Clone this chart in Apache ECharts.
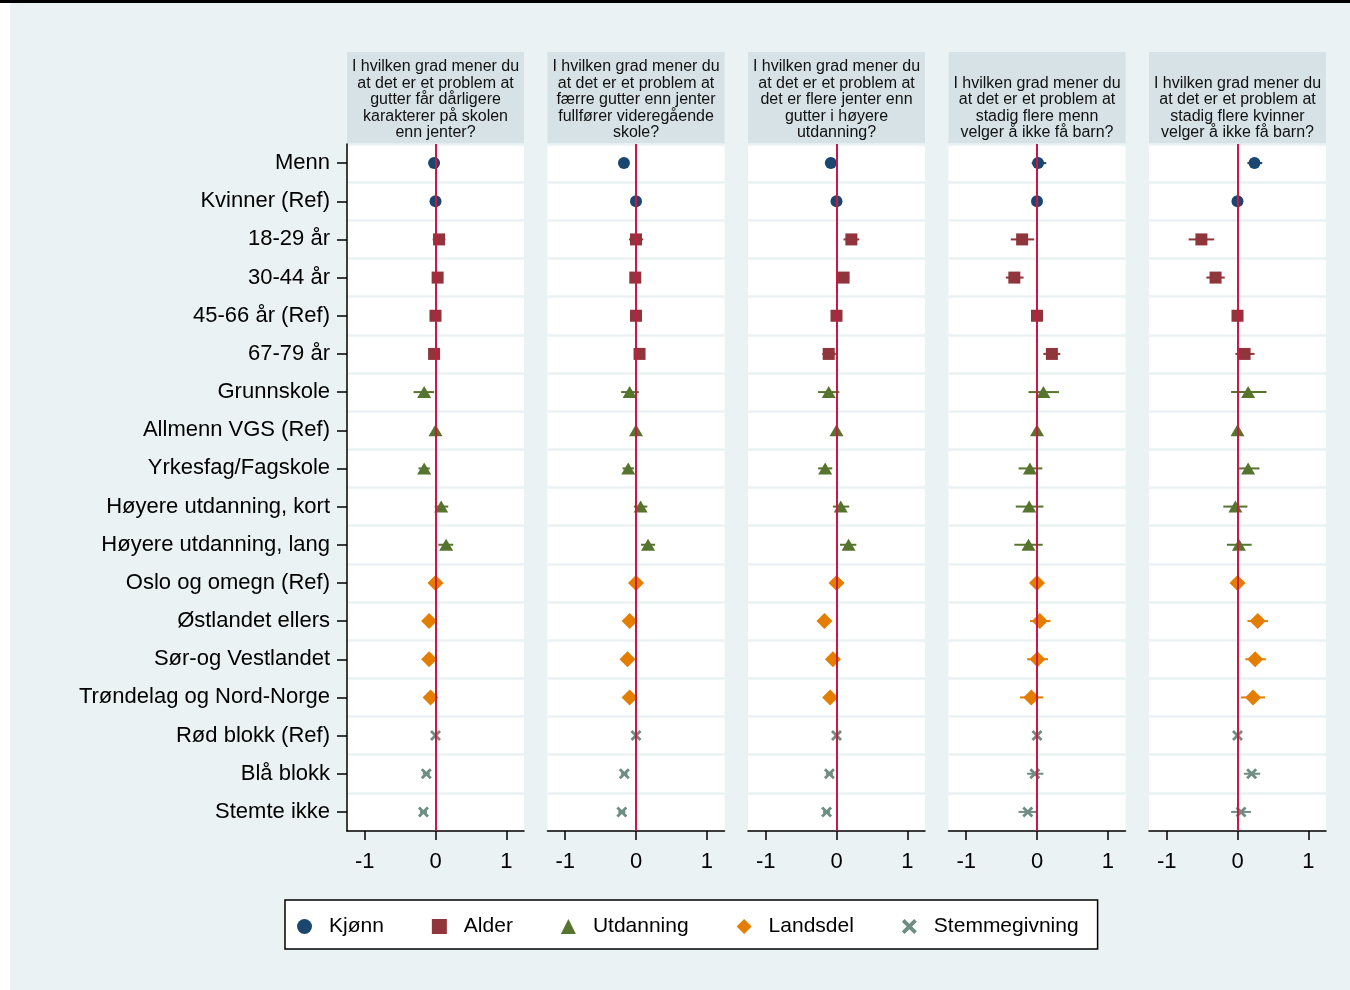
<!DOCTYPE html>
<html><head><meta charset="utf-8">
<script src="https://cdn.jsdelivr.net/npm/echarts@6/dist/echarts.min.js"></script>
<style>
html,body{margin:0;padding:0;background:#fff}
#wrap{position:relative;width:1350px;height:990px}
#c{position:absolute;left:0;top:0;width:1350px;height:990px}
#topbar{position:absolute;left:0;top:0;width:1350px;height:3px;background:#000;z-index:5}
#leftstrip{position:absolute;left:0;top:3px;width:10px;height:987px;background:#fff;z-index:5}
</style>
</head><body><div id="wrap"><div id="c"></div><div id="topbar"></div><div id="leftstrip"></div></div>
<script>
// ---------- data ----------
const categories = ['Menn','Kvinner (Ref)','18-29 år','30-44 år','45-66 år (Ref)','67-79 år',
  'Grunnskole','Allmenn VGS (Ref)','Yrkesfag/Fagskole','Høyere utdanning, kort','Høyere utdanning, lang',
  'Oslo og omegn (Ref)','Østlandet ellers','Sør-og Vestlandet','Trøndelag og Nord-Norge',
  'Rød blokk (Ref)','Blå blokk','Stemte ikke'];
const groups = ['Kjønn','Alder','Utdanning','Landsdel','Stemmegivning'];
const categoryGroup = [0,0,1,1,1,1,2,2,2,2,2,3,3,3,3,4,4,4];
const panelTitles = [
  'I hvilken grad mener du\nat det er et problem at\ngutter får dårligere\nkarakterer på skolen\nenn jenter?',
  'I hvilken grad mener du\nat det er et problem at\nfærre gutter enn jenter\nfullfører videregående\nskole?',
  'I hvilken grad mener du\nat det er et problem at\ndet er flere jenter enn\ngutter i høyere\nutdanning?',
  'I hvilken grad mener du\nat det er et problem at\nstadig flere menn\nvelger å ikke få barn?',
  'I hvilken grad mener du\nat det er et problem at\nstadig flere kvinner\nvelger å ikke få barn?'
];
const xTicks = [-1, 0, 1];

const est1 = [-0.02,0,0.05,0.03,0,-0.02,-0.16,0,-0.16,0.08,0.15,0,-0.09,-0.09,-0.07,0,-0.13,-0.17];
const lo1  = [-0.07,0,-0.04,-0.03,0,-0.08,-0.31,0,-0.24,-0.01,0.04,0,-0.15,-0.15,-0.13,0,-0.18,-0.22];
const hi1  = [0.03,0,0.14,0.09,0,0.04,-0.02,0,-0.08,0.18,0.25,0,-0.03,-0.03,-0.01,0,-0.08,-0.12];

const est2 = [-0.17,0,0,-0.01,0,0.05,-0.09,0,-0.11,0.065,0.17,0,-0.09,-0.12,-0.09,0,-0.165,-0.2];
const lo2  = [-0.22,0,-0.1,-0.07,0,-0.01,-0.21,0,-0.19,-0.03,0.07,0,-0.15,-0.18,-0.15,0,-0.21,-0.25];
const hi2  = [-0.12,0,0.1,0.05,0,0.11,0.04,0,-0.03,0.16,0.27,0,-0.03,-0.06,-0.03,0,-0.12,-0.15];

const est3 = [-0.08,0,0.21,0.10,0,-0.11,-0.11,0,-0.16,0.06,0.17,0,-0.17,-0.05,-0.09,0,-0.10,-0.14];
const lo3  = [-0.14,0,0.10,0.01,0,-0.20,-0.26,0,-0.26,-0.05,0.05,0,-0.23,-0.11,-0.15,0,-0.15,-0.19];
const hi3  = [-0.02,0,0.32,0.18,0,-0.01,0.04,0,-0.06,0.18,0.28,0,-0.11,0.01,-0.03,0,-0.05,-0.09];

const est4 = [0.015,0,-0.21,-0.32,0,0.21,0.09,0,-0.10,-0.11,-0.12,0,0.04,0.005,-0.08,0,-0.03,-0.13];
const lo4  = [-0.075,0,-0.37,-0.44,0,0.09,-0.12,0,-0.26,-0.30,-0.32,0,-0.10,-0.14,-0.24,0,-0.14,-0.26];
const hi4  = [0.13,0,-0.04,-0.19,0,0.33,0.31,0,0.075,0.09,0.08,0,0.19,0.156,0.09,0,0.09,0.01];

const est5 = [0.24,0,-0.51,-0.31,0,0.10,0.15,0,0.15,-0.03,0.02,0,0.285,0.25,0.22,0,0.20,0.05];
const lo5  = [0.14,0,-0.69,-0.44,0,-0.03,-0.09,0,0.01,-0.2,-0.15,0,0.14,0.11,0.05,0,0.09,-0.09];
const hi5  = [0.35,0,-0.33,-0.18,0,0.24,0.41,0,0.31,0.14,0.2,0,0.43,0.40,0.39,0,0.32,0.19];

const estimates = [est1, est2, est3, est4, est5];
const lowers = [lo1, lo2, lo3, lo4, lo5];
const uppers = [hi1, hi2, hi3, hi4, hi5];

// ---------- styling ----------
const FONT = '"Liberation Sans", Arial, sans-serif';
const colors = ['#1a476f','#90353b','#55752f','#e37e00','#6e8e84'];
const xPath = 'path://M0,1.8L1.8,0L5,3.2L8.2,0L10,1.8L6.8,5L10,8.2L8.2,10L5,6.8L1.8,10L0,8.2L3.2,5Z';
const symbols = ['circle','rect','triangle','diamond', xPath];
const symbolSizes = [12, 12, [14,12], 16, 11];
const BG = '#eaf2f3';
const HEADER_BG = '#d6e2e6';
const panelLeft0 = 347, panelW = 177, panelStep = 200.5, gridTop = 144, gridBottomY = 831;

const grids = [], xAxes = [], yAxes = [], series = [], graphics = [];
for (let p = 0; p < 5; p++) {
  const left = panelLeft0 + p * panelStep;
  grids.push({left: left, top: gridTop, width: panelW, height: gridBottomY - gridTop,
    show: true, backgroundColor: '#fff', borderWidth: 0, containLabel: false});
  xAxes.push({type: 'value', gridIndex: p, min: -1.25, max: 1.25,
    axisLine: {show: true, onZero: false, lineStyle: {color: '#000', width: 1.5}},
    axisTick: {show: true, length: 9, customValues: xTicks, lineStyle: {color: '#000', width: 1.5}},
    axisLabel: {show: true, customValues: xTicks, margin: 20, fontSize: 22, fontFamily: FONT, color: '#000'},
    splitLine: {show: false}});
  yAxes.push({type: 'category', gridIndex: p, data: categories, inverse: true,
    axisLine: {show: p === 0, onZero: false, lineStyle: {color: '#000', width: 1.5}},
    axisTick: {show: p === 0, alignWithLabel: true, length: 10, lineStyle: {color: '#000', width: 1.5}},
    axisLabel: {show: p === 0, fontSize: 22, fontFamily: FONT, color: '#000', margin: 17, padding: [3, 0, 0, 0]},
    splitLine: {show: true, lineStyle: {color: BG, width: 2.5}}});

  // zero reference line
  series.push({type: 'line', xAxisIndex: p, yAxisIndex: p, data: [[0, 0]], symbol: 'none',
    lineStyle: {opacity: 0}, silent: true, z: 1,
    markLine: {silent: true, symbol: 'none', label: {show: false},
      lineStyle: {color: '#cc1744', width: 2, type: 'solid'}, data: [{xAxis: 0}]}});

  // confidence intervals
  const ciData = [];
  for (let i = 0; i < categories.length; i++) {
    if (lowers[p][i] !== uppers[p][i]) ciData.push([lowers[p][i], uppers[p][i], i, categoryGroup[i]]);
  }
  series.push({type: 'custom', xAxisIndex: p, yAxisIndex: p, z: 2, silent: true,
    encode: {x: [0, 1], y: 2},
    renderItem: function (params, api) {
      const a = api.coord([api.value(0), api.value(2)]);
      const b = api.coord([api.value(1), api.value(2)]);
      return {type: 'line', shape: {x1: a[0], y1: a[1], x2: b[0], y2: b[1]},
        style: {stroke: colors[api.value(3)], lineWidth: 2}};
    },
    data: ciData});

  // point estimates
  for (let g = 0; g < groups.length; g++) {
    const d = [];
    for (let i = 0; i < categories.length; i++) if (categoryGroup[i] === g) d.push([estimates[p][i], i]);
    series.push({type: 'scatter', name: groups[g], xAxisIndex: p, yAxisIndex: p, z: 3,
      symbol: symbols[g], symbolSize: symbolSizes[g],
      itemStyle: {color: colors[g], opacity: 1}, data: d});
  }

  // panel header
  graphics.push({type: 'rect', shape: {x: left, y: 52, width: panelW, height: gridTop - 52},
    style: {fill: HEADER_BG}, silent: true});
  graphics.push({type: 'text', x: left + panelW / 2, y: 141, silent: true,
    style: {text: panelTitles[p], align: 'center', verticalAlign: 'bottom',
      font: '16px ' + FONT, lineHeight: 16.5, fill: '#111'}});
}

const chart = echarts.init(document.getElementById('c'), null, {renderer: 'canvas'});
chart.setOption({
  animation: false,
  backgroundColor: BG,
  grid: grids, xAxis: xAxes, yAxis: yAxes, series: series,
  graphic: {elements: graphics},
  legend: {left: 285, top: 900, orient: 'horizontal',
    data: groups.map((g, i) => ({name: g, icon: symbols[i]})),
    itemWidth: 15, itemHeight: 15, itemGap: 48, symbolKeepAspect: true,
    padding: [14, 19, 10, 12], backgroundColor: '#fff', borderColor: '#000', borderWidth: 1.5, borderRadius: 0,
    textStyle: {fontSize: 21, fontFamily: FONT, color: '#000', lineHeight: 25, padding: [0, 0, 0, 12]},
    selectedMode: false}
});
</script></body></html>
